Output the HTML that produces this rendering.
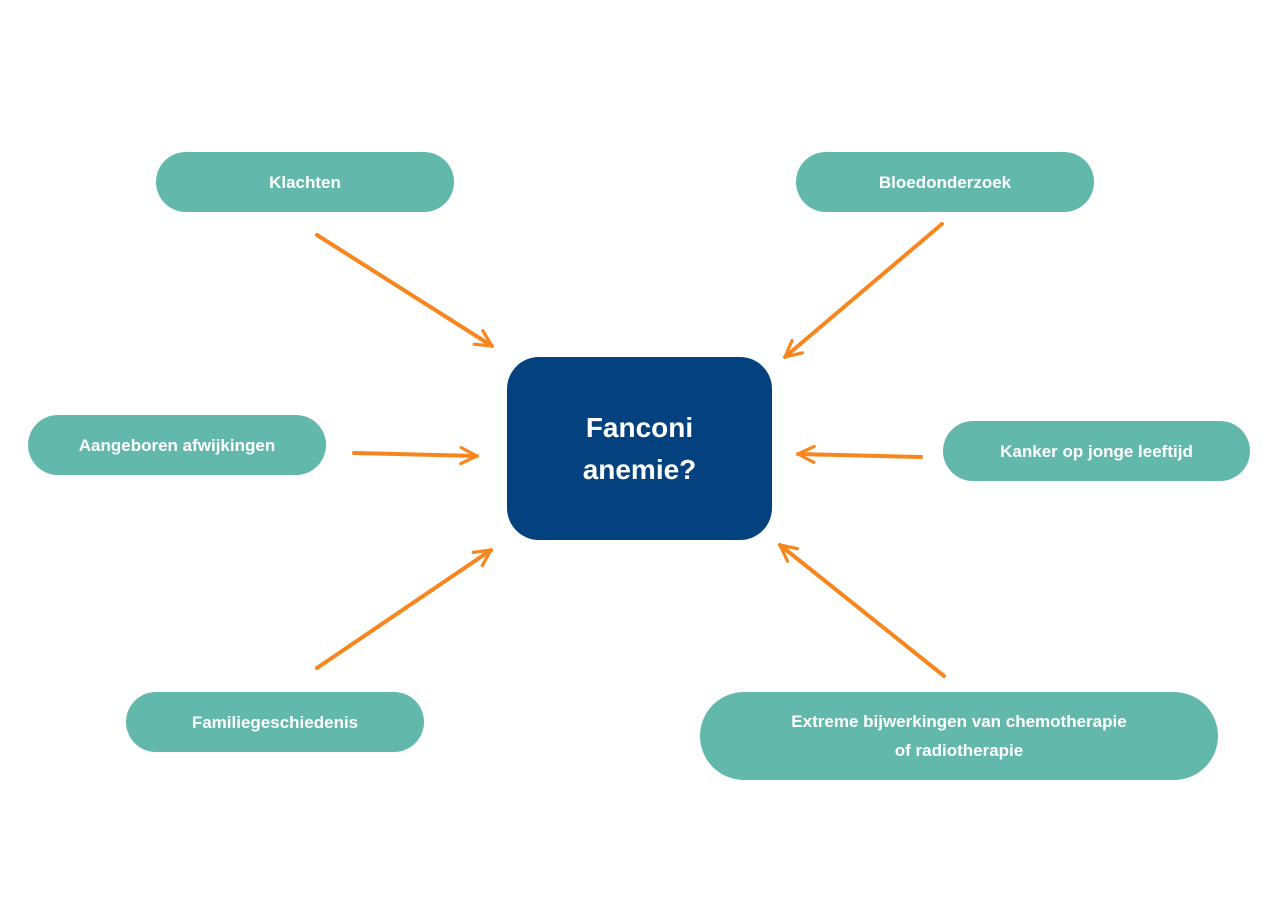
<!DOCTYPE html>
<html><head><meta charset="utf-8"><style>
body{margin:0;background:#fff;width:1280px;height:905px;position:relative;overflow:hidden;font-family:"Liberation Sans",sans-serif}
.p{position:absolute;background:#62b8ab;color:#fff;font-weight:bold;font-size:17px;display:flex;align-items:center;justify-content:center;text-align:center;border-radius:30px;line-height:29px}
.c{position:absolute;left:507px;top:357px;width:265px;height:183px;background:#03427f;border-radius:32px;color:#fff;font-weight:bold;font-size:28px;line-height:42px;display:flex;align-items:center;justify-content:center;text-align:center}
svg{position:absolute;left:0;top:0}
</style></head><body>
<div class="p" style="left:156px;top:152px;width:298px;height:60px">Klachten</div>
<div class="p" style="left:796px;top:152px;width:298px;height:60px">Bloedonderzoek</div>
<div class="p" style="left:28px;top:415px;width:298px;height:60px">Aangeboren afwijkingen</div>
<div class="p" style="left:943px;top:421px;width:307px;height:60px">Kanker op jonge leeftijd</div>
<div class="p" style="left:126px;top:692px;width:298px;height:60px">Familiegeschiedenis</div>
<div class="p" style="left:700px;top:692px;width:518px;height:88px;border-radius:44px">Extreme bijwerkingen van chemotherapie<br>of radiotherapie</div>
<div class="c">Fanconi<br>anemie?</div>
<svg width="1280" height="905"><defs><marker id="a" viewBox="0 0 10 10" refX="9" refY="5" markerWidth="5" markerHeight="5" orient="auto" markerUnits="strokeWidth"><path d="M1,1 L9,5 L1,9" fill="none" stroke="#f7861e" stroke-width="1.6" stroke-linecap="round" stroke-linejoin="round"/></marker></defs>
<g stroke="#f7861e" stroke-width="4" stroke-linecap="round" fill="none" marker-end="url(#a)">
<line x1="317" y1="235" x2="492" y2="346"/>
<line x1="942" y1="224" x2="785" y2="357"/>
<line x1="354" y1="453" x2="477" y2="456"/>
<line x1="921" y1="457" x2="798" y2="454"/>
<line x1="317" y1="668" x2="491" y2="550"/>
<line x1="944" y1="676" x2="780" y2="545"/>
</g></svg>
</body></html>
